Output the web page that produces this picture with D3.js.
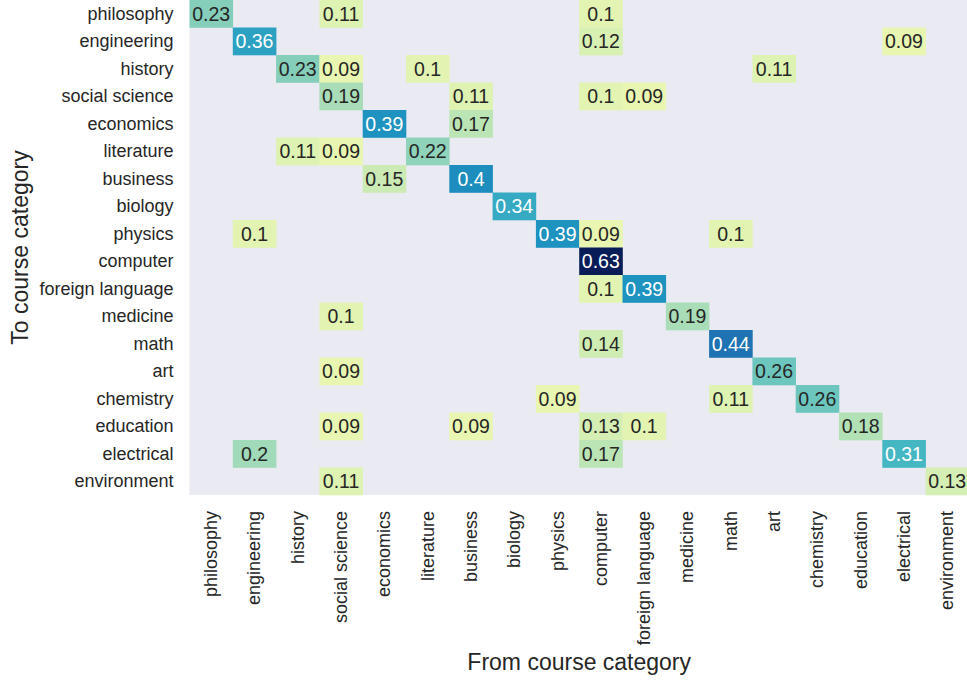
<!DOCTYPE html>
<html><head><meta charset="utf-8">
<script src="https://cdn.jsdelivr.net/npm/d3@7"></script>
<style>
body{margin:0;background:#fff;}
svg{display:block;}
text{font-family:Arial,"Liberation Sans",sans-serif;}
</style>
</head><body>
<svg id="chart" width="967" height="680"></svg>
<script>
const categories = ["philosophy","engineering","history","social science","economics","literature","business","biology","physics","computer","foreign language","medicine","math","art","chemistry","education","electrical","environment"];
const xTitle = "From course category";
const yTitle = "To course category";
// rows = "to" category, columns = "from" category; 0 = masked
const values = [
  [0.23,0,0,0.11,0,0,0,0,0,0.10,0,0,0,0,0,0,0,0],
  [0,0.36,0,0,0,0,0,0,0,0.12,0,0,0,0,0,0,0.09,0],
  [0,0,0.23,0.09,0,0.10,0,0,0,0,0,0,0,0.11,0,0,0,0],
  [0,0,0,0.19,0,0,0.11,0,0,0.10,0.09,0,0,0,0,0,0,0],
  [0,0,0,0,0.39,0,0.17,0,0,0,0,0,0,0,0,0,0,0],
  [0,0,0.11,0.09,0,0.22,0,0,0,0,0,0,0,0,0,0,0,0],
  [0,0,0,0,0.15,0,0.40,0,0,0,0,0,0,0,0,0,0,0],
  [0,0,0,0,0,0,0,0.34,0,0,0,0,0,0,0,0,0,0],
  [0,0.10,0,0,0,0,0,0,0.39,0.09,0,0,0.10,0,0,0,0,0],
  [0,0,0,0,0,0,0,0,0,0.63,0,0,0,0,0,0,0,0],
  [0,0,0,0,0,0,0,0,0,0.10,0.39,0,0,0,0,0,0,0],
  [0,0,0,0.10,0,0,0,0,0,0,0,0.19,0,0,0,0,0,0],
  [0,0,0,0,0,0,0,0,0,0.14,0,0,0.44,0,0,0,0,0],
  [0,0,0,0.09,0,0,0,0,0,0,0,0,0,0.26,0,0,0,0],
  [0,0,0,0,0,0,0,0,0.09,0,0,0,0.11,0,0.26,0,0,0],
  [0,0,0,0.09,0,0,0.09,0,0,0.13,0.10,0,0,0,0,0.18,0,0],
  [0,0.20,0,0,0,0,0,0,0,0.17,0,0,0,0,0,0,0.31,0],
  [0,0,0,0.11,0,0,0,0,0,0,0,0,0,0,0,0,0,0.13]
];
const ylgnbu = ["#ffffd9","#edf8b1","#c7e9b4","#7fcdbb","#41b6c4","#1d91c0","#225ea8","#253494","#081d58"];

const svg = d3.select("#chart");
const left0 = 189.5, top0 = 0, cellW = 43.3, cellH = 27.5;
const W = cellW * categories.length, H = cellH * categories.length;

const x = d3.scaleBand().domain(categories).range([left0, left0 + W]);
const y = d3.scaleBand().domain(categories).range([top0, top0 + H]);

const vmax = d3.max(values.flat());
const cmap = d3.scaleLinear().domain(ylgnbu.map((c,i)=>i/(ylgnbu.length-1))).range(ylgnbu).interpolate(d3.interpolateRgb).clamp(true);
const color = v => cmap(v / vmax);

function lum(c){
  const r = d3.rgb(c);
  const f = u => { u/=255; return u <= 0.03928 ? u/12.92 : Math.pow((u+0.055)/1.055, 2.4); };
  return 0.2126*f(r.r) + 0.7152*f(r.g) + 0.0722*f(r.b);
}

svg.append("rect").attr("x", left0).attr("y", top0).attr("width", W).attr("height", H).attr("fill", "#eaeaf2");

const cells = [];
values.forEach((row, i) => row.forEach((v, j) => { if (v > 0) cells.push({to: categories[i], from: categories[j], v}); }));

const fmt = d3.format(".2~g");
const g = svg.append("g");
g.selectAll("rect.cell").data(cells).join("rect").attr("class","cell")
  .attr("x", d => x(d.from)).attr("y", d => y(d.to))
  .attr("width", x.bandwidth()+0.3).attr("height", y.bandwidth()+0.3)
  .attr("fill", d => color(d.v));
g.selectAll("text.ann").data(cells).join("text").attr("class","ann")
  .attr("x", d => x(d.from) + x.bandwidth()/2).attr("y", d => y(d.to) + y.bandwidth()/2)
  .attr("text-anchor","middle").attr("dominant-baseline","central")
  .attr("font-size", 19.5)
  .attr("fill", d => lum(color(d.v)) > 0.408 ? "#262626" : "#ffffff")
  .text(d => fmt(d.v));

// y axis
const yAxis = svg.append("g").attr("transform", `translate(${left0},0)`)
  .call(d3.axisLeft(y).tickSize(0).tickPadding(16));
yAxis.select(".domain").remove();
yAxis.selectAll("text").attr("font-size", 18).attr("fill", "#262626").attr("font-family","Arial,'Liberation Sans',sans-serif");

// x axis
const xAxis = svg.append("g").attr("transform", `translate(0,${top0+H})`)
  .call(d3.axisBottom(x).tickSize(0).tickPadding(0));
xAxis.select(".domain").remove();
xAxis.selectAll("text")
  .attr("font-size", 18).attr("fill", "#262626").attr("font-family","Arial,'Liberation Sans',sans-serif")
  .attr("text-anchor","end").attr("dy", null).attr("y", 0).attr("x", 0)
  .attr("dominant-baseline","central")
  .attr("transform", "translate(0,16) rotate(-90)");

svg.append("text").attr("x", left0 + W/2).attr("y", 670)
  .attr("text-anchor","middle").attr("font-size", 23).attr("fill","#262626").text(xTitle);
svg.append("text").attr("transform", `translate(28,${top0 + H/2}) rotate(-90)`)
  .attr("text-anchor","middle").attr("font-size", 23).attr("fill","#262626").text(yTitle);
</script>
</body></html>
